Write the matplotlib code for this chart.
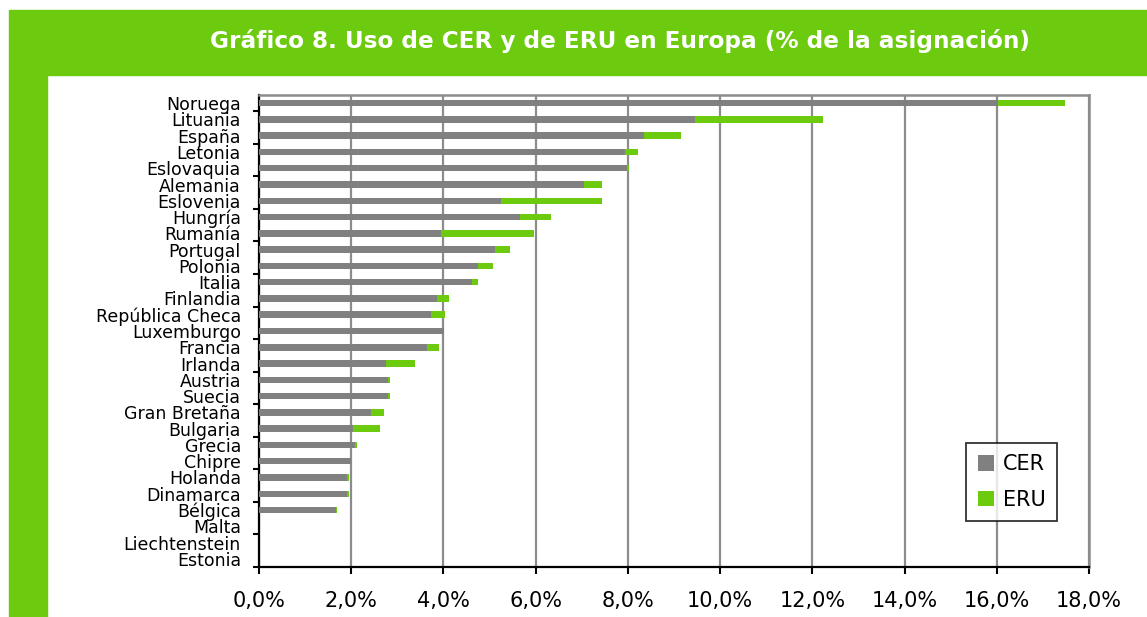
import numpy as np
import matplotlib
matplotlib.use('Agg')
import matplotlib.pyplot as plt
from matplotlib.patches import Rectangle

# Data (% of allocation)
paises = ['Noruega', 'Lituania', 'España', 'Letonia', 'Eslovaquia', 'Alemania',
          'Eslovenia', 'Hungría', 'Rumanía', 'Portugal', 'Polonia', 'Italia',
          'Finlandia', 'República Checa', 'Luxemburgo', 'Francia', 'Irlanda',
          'Austria', 'Suecia', 'Gran Bretaña', 'Bulgaria', 'Grecia', 'Chipre',
          'Holanda', 'Dinamarca', 'Bélgica', 'Malta', 'Liechtenstein', 'Estonia']
cer = [16.03, 9.46, 8.36, 7.93, 7.98, 7.05, 5.24, 5.66, 3.94, 5.12, 4.74, 4.61,
       3.86, 3.73, 4.01, 3.65, 2.76, 2.79, 2.79, 2.42, 2.04, 2.09, 1.99,
       1.91, 1.91, 1.66, 0.0, 0.0, 0.0]
eru = [1.46, 2.77, 0.79, 0.30, 0.04, 0.39, 2.20, 0.68, 2.02, 0.33, 0.34, 0.13,
       0.25, 0.30, 0.0, 0.25, 0.63, 0.05, 0.05, 0.29, 0.59, 0.04, 0.0,
       0.05, 0.05, 0.04, 0.0, 0.0, 0.0]
xticks = [0, 2, 4, 6, 8, 10, 12, 14, 16, 18]

GREEN = '#6dcb0f'
GRAY = '#808080'
W, H = 1147, 617

fig = plt.figure(figsize=(W / 100, H / 100), dpi=100)

# green frame: title band + left strip
fig.patches.append(Rectangle((9 / W, 1 - 75 / H), (W - 9) / W, 65 / H,
                             transform=fig.transFigure, color=GREEN, zorder=0))
fig.patches.append(Rectangle((9 / W, 0), 38 / W, 1 - 75 / H,
                             transform=fig.transFigure, color=GREEN, zorder=0))
fig.text(620 / W, 1 - 41 / H,
         'Gráfico 8. Uso de CER y de ERU en Europa (% de la asignación)',
         color='white', fontsize=16.7, fontweight='bold', ha='center', va='center')

ax = fig.add_axes([259 / W, 50 / H, 830 / W, 472 / H])
y = np.arange(len(paises))
ax.barh(y, cer, height=0.4, color=GRAY, label='CER', zorder=3)
ax.barh(y, eru, left=cer, height=0.4, color=GREEN, label='ERU', zorder=3)

ax.set_xlim(0, 18)
ax.set_ylim(len(paises) - 0.5, -0.5)

ax.set_xticks(xticks)
ax.set_xticklabels([f'{v:.1f}%'.replace('.', ',') for v in xticks], fontsize=15)
ax.tick_params(axis='x', direction='out', length=5, width=1.5, pad=12, color='black')
ax.xaxis.grid(True, color='#8c8c8c', linewidth=1.6, zorder=0)

ax.set_yticks(y)
ax.set_yticklabels(paises, fontsize=12.5)
ax.tick_params(axis='y', which='major', length=0, pad=13)
ax.set_yticks(np.arange(0.5, len(paises), 2), minor=True)
ax.tick_params(axis='y', which='minor', direction='out', length=4, width=1.5, color='black')
ax.set_axisbelow(True)

for s in ['left', 'bottom']:
    ax.spines[s].set_color('black')
    ax.spines[s].set_linewidth(1.6)
for s in ['top', 'right']:
    ax.spines[s].set_color('#8c8c8c')
    ax.spines[s].set_linewidth(1.8)

leg = ax.legend(loc='lower left', bbox_to_anchor=(0.852, 0.097), borderaxespad=0,
                fontsize=15, frameon=True, fancybox=False, handlelength=0.8,
                handleheight=0.8, handletextpad=0.4, labelspacing=0.75, borderpad=0.55)
leg.get_frame().set_edgecolor('black')
leg.get_frame().set_linewidth(1.3)

fig.savefig('out.png', dpi=100)
